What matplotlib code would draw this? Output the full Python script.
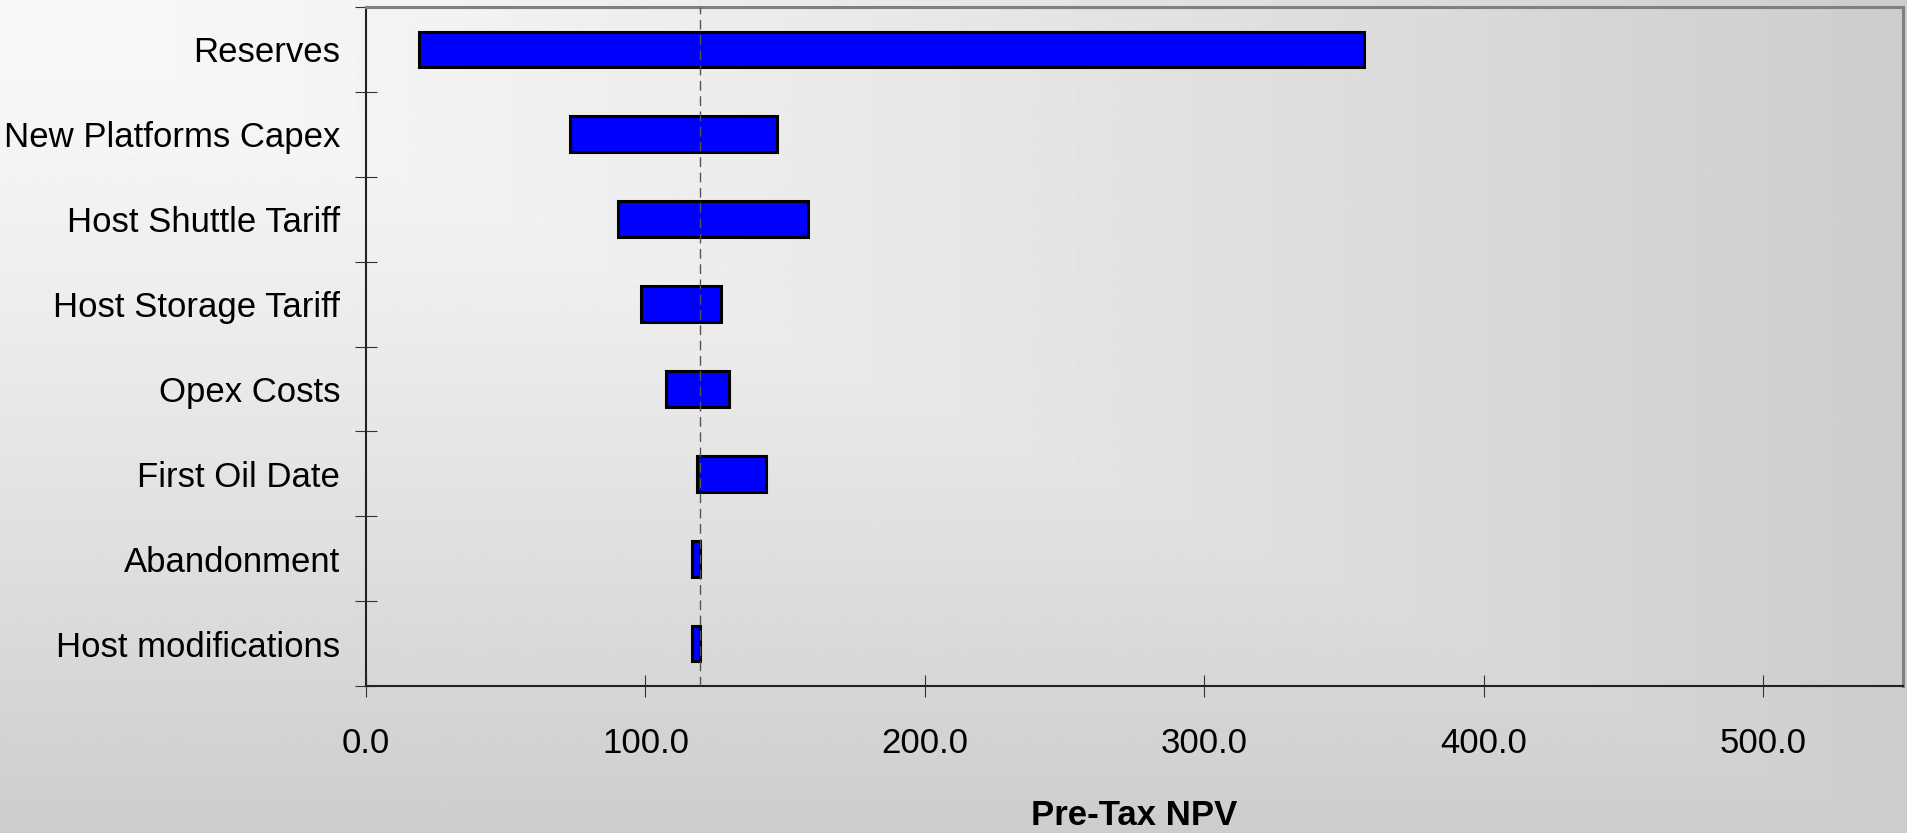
import numpy as np
import matplotlib
matplotlib.use("Agg")
import matplotlib.pyplot as plt
from matplotlib.ticker import FormatStrFormatter

plt.rcParams['font.family'] = ['Liberation Sans', 'DejaVu Sans']

### Data ###
categories = ['Reserves', 'New Platforms Capex', 'Host Shuttle Tariff',
              'Host Storage Tariff', 'Opex Costs', 'First Oil Date',
              'Abandonment', 'Host modifications']
npv_low = [19.1, 73.0, 90.0, 98.5, 107.2, 118.5, 116.5, 116.5]
npv_high = [357.0, 147.0, 158.3, 127.1, 129.9, 143.1, 119.6, 119.6]
npv_base = 119.5
x_ticks = [0, 100, 200, 300, 400, 500]

W, H = 1907, 833
fig = plt.figure(figsize=(W / 100, H / 100), dpi=100)

# corner gradient behind everything: light top-left, grey towards right/bottom
bg = fig.add_axes([0, 0, 1, 1], zorder=0)
xx, yy = np.meshgrid(np.linspace(0, 1, 800), np.linspace(0, 1, 400))
t = np.maximum(xx, yy)
shade = 249 - 44 * t ** 1.3
bg.imshow(shade, cmap='gray', vmin=0, vmax=255, aspect='auto',
          extent=[0, 1, 1, 0], interpolation='bilinear')
bg.axis('off')

ax = fig.add_axes([366 / W, 1 - 686 / H, (1903 - 366) / W, (686 - 7) / H], zorder=1)
ax.patch.set_alpha(0)

y = np.arange(len(categories))
widths = [h - l for l, h in zip(npv_low, npv_high)]
ax.barh(y, widths, left=npv_low, height=0.42, color='#0000ff',
        edgecolor='black', linewidth=2.2, zorder=2)
ax.axvline(npv_base, color='#555555', linewidth=1.0,
           linestyle=(0, (7, 4)), zorder=3)

ax.set_xlim(0, 550)
ax.set_ylim(len(categories) - 0.5, -0.5)

# category boundaries carry the tick marks, centres carry the labels
ax.set_yticks(np.arange(-0.5, len(categories), 1))
ax.set_yticklabels([])
ax.set_yticks(y, minor=True)
ax.set_yticklabels(categories, minor=True, fontsize=25)
ax.tick_params(axis='y', which='major', direction='inout', length=16,
               width=0.8, color='#333333')
ax.tick_params(axis='y', which='minor', length=0, pad=18.5)

ax.set_xticks(x_ticks)
ax.xaxis.set_major_formatter(FormatStrFormatter('%.1f'))
ax.tick_params(axis='x', direction='inout', length=16.5, width=0.8,
               color='#333333', labelsize=25, pad=21)

ax.set_xlabel('Pre-Tax NPV', fontsize=25, fontweight='bold', labelpad=28)

for side in ['left', 'bottom']:
    ax.spines[side].set_color('#222222')
    ax.spines[side].set_linewidth(1.5)
for side in ['top', 'right']:
    ax.spines[side].set_color('#808080')
    ax.spines[side].set_linewidth(2.2)

fig.savefig('out.png', dpi=100)
